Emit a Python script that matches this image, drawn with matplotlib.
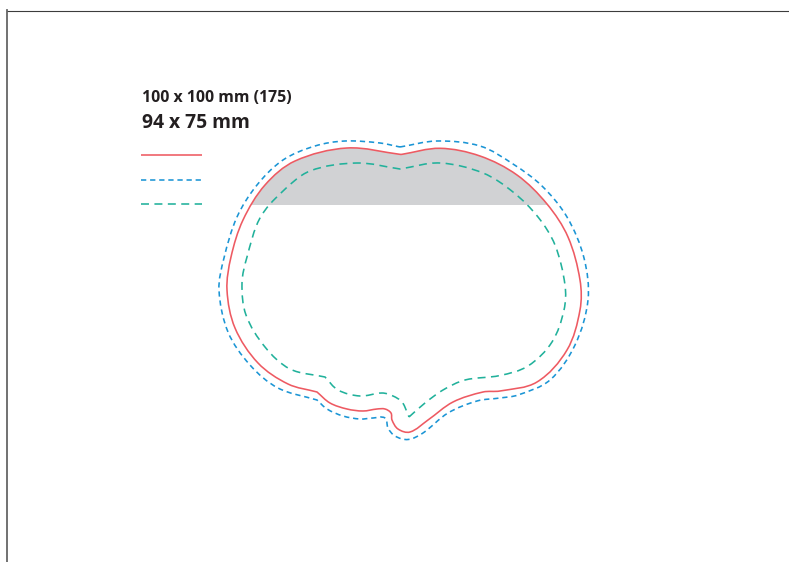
import numpy as np
import matplotlib
matplotlib.use('Agg')
import matplotlib.pyplot as plt
from matplotlib.path import Path
from matplotlib.patches import PathPatch, Rectangle

# outlines, in pixels, clockwise from the top notch
red_x = [401, 440, 480, 517, 547, 568, 580, 580, 567, 537, 500, 483, 453, 428, 410, 398, 392, 391, 385, 377, 363, 347, 330, 317]
red_y = [154.5, 148.3, 156, 175, 204, 237, 280, 310, 350, 382, 391, 392, 402, 420, 432, 429, 420, 413, 409, 409, 411, 409, 403, 392]
red2_x = [317, 288, 258, 235, 227, 231, 243, 265, 295, 347, 401]
red2_y = [392, 384, 363, 328, 290, 257, 220, 185, 161, 148, 154.5]

blue_x = [400, 437, 480, 513, 542, 567, 584, 588, 575, 550, 518, 500, 477, 448, 423, 408, 395, 388, 385, 373, 360, 343, 327, 317]
blue_y = [147, 141, 146, 164, 186, 217, 258, 300, 345, 380, 395, 398, 401, 413, 433, 439.5, 436, 428, 418, 418, 419, 416, 409, 400]
blue2_x = [317, 278, 250, 228, 219, 224, 237, 257, 283, 315, 345, 380, 400]
blue2_y = [400, 388, 365, 332, 290, 258, 217, 185, 160, 146, 141, 143, 147]

teal_x = [409, 425, 443, 465, 500, 528, 552, 564, 565, 555, 538, 513, 483, 440, 400]
teal_y = [417, 403, 390, 380, 375.5, 366, 342, 310, 285, 245, 217, 192, 173, 163, 169]
teal2_x = [400, 357, 310, 282, 260, 247, 242, 246, 265, 290, 325]
teal2_y = [169, 163, 171, 192, 218, 257, 283, 315, 347, 369, 377]
teal3_x = [325, 338, 360, 382, 393, 402, 407, 409]
teal3_y = [377, 390, 396, 393, 396, 402, 412, 417]

title_1 = '100 x 100 mm (175)'
title_2 = '94 x 75 mm'

RED = '#ee5a62'
BLUE = '#1b95d5'
TEAL = '#21b19b'
GREY = '#d1d2d4'
BLUE_DASH = (0, (3.3, 2.4))
TEAL_DASH = (0, (5.0, 3.4))


def smooth(xs, ys):
    # tangents from the neighbours, handle length from the segment, so uneven knots stay smooth
    p = np.column_stack([xs, ys]).astype(float)
    n = len(p)
    tan = np.zeros_like(p)
    for i in range(n):
        d = p[min(i + 1, n - 1)] - p[max(i - 1, 0)]
        tan[i] = d / np.hypot(*d)
    verts = [p[0]]
    codes = [Path.MOVETO]
    for i in range(n - 1):
        seg = np.hypot(*(p[i + 1] - p[i])) / 3
        verts += [p[i] + tan[i] * seg, p[i + 1] - tan[i + 1] * seg, p[i + 1]]
        codes += [Path.CURVE4] * 3
    return verts, codes


def outline(ax, parts, **kw):
    verts, codes = [], []
    for xs, ys in parts:
        v, c = smooth(xs, ys)
        if verts:
            v, c = v[1:], c[1:]
        verts += v
        codes += c
    patch = PathPatch(Path(verts, codes), fill=False, capstyle='butt', **kw)
    ax.add_patch(patch)
    return verts, codes


fig = plt.figure(figsize=(7.89, 5.62), dpi=100)
ax = fig.add_axes([0, 0, 1, 1])
ax.set_xlim(0, 789)
ax.set_ylim(562, 0)
ax.axis('off')

# page frame
ax.plot([7, 789], [10.5, 10.5], color='#3c3c3c', lw=0.8)
ax.plot([7, 7], [10, 562], color='#666666', lw=1.3)

# red first, the grey band is the same shape cut off at y=205
verts, codes = outline(ax, [(red_x, red_y), (red2_x, red2_y)], edgecolor=RED, lw=1.15, zorder=3)
fill = PathPatch(Path(verts, codes), facecolor=GREY, edgecolor='none')
ax.add_patch(fill)
fill.set_clip_path(Rectangle((0, 0), 789, 205, transform=ax.transData))

outline(ax, [(blue_x, blue_y), (blue2_x, blue2_y)], edgecolor=BLUE, lw=1.15, linestyle=BLUE_DASH, zorder=3)
outline(ax, [(teal_x, teal_y), (teal2_x, teal2_y), (teal3_x, teal3_y)], edgecolor=TEAL, lw=1.15, linestyle=TEAL_DASH, zorder=3)

# legend keys
ax.plot([141, 202], [155, 155], color=RED, lw=1.15, solid_capstyle='butt')
ax.plot([141, 202], [179.5, 179.5], color=BLUE, lw=1.15, linestyle=BLUE_DASH, dash_capstyle='butt')
ax.plot([141, 202], [204, 204], color=TEAL, lw=1.15, linestyle=TEAL_DASH, dash_capstyle='butt')

ax.text(142, 102.5, title_1, family='Open Sans', weight='bold', fontsize=11.4, color='#231f20', va='baseline')
ax.text(142, 128, title_2, family='Open Sans', weight='bold', fontsize=13.9, color='#231f20', va='baseline')

fig.savefig('out.png', dpi=100)
